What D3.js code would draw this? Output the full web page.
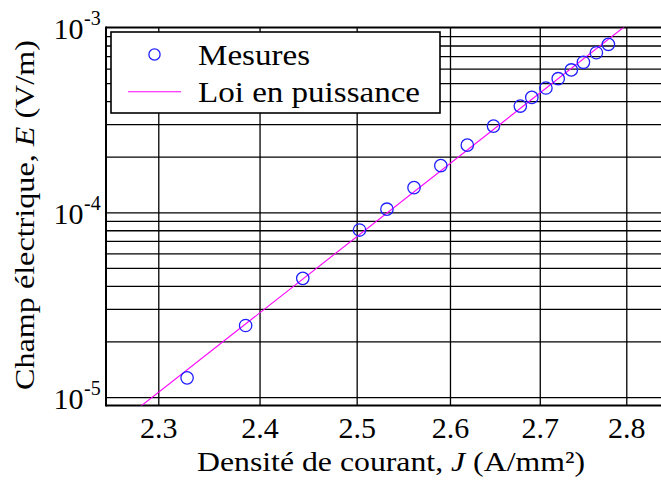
<!DOCTYPE html>
<html>
<head>
<meta charset="utf-8">
<script src="https://cdn.jsdelivr.net/npm/d3@7/dist/d3.min.js"></script>
<style>
  html, body { margin: 0; padding: 0; background: #fff; }
  svg { display: block; }
</style>
</head>
<body>
<svg id="chart" width="661" height="481"></svg>
<script>
// ---- data ----
const J = [2.328, 2.386, 2.444, 2.503, 2.532, 2.561, 2.590, 2.619, 2.648, 2.678, 2.691, 2.707, 2.721, 2.736, 2.750, 2.765, 2.779];
const E = [1.27e-5, 2.44e-5, 4.39e-5, 8.02e-5, 1.04e-4, 1.36e-4, 1.79e-4, 2.31e-4, 2.93e-4, 3.76e-4, 4.19e-4, 4.71e-4, 5.29e-4, 5.90e-4, 6.49e-4, 7.31e-4, 8.12e-4];
// power-law fit line (two ends)
const fitJ = [2.28, 2.80];
const fitE = [8.64e-6, 1.03e-3];
const xTicks = [2.3, 2.4, 2.5, 2.6, 2.7, 2.8];
const yDecades = [-5, -4, -3];
const yMinorMult = [1, 2, 3, 4, 5, 6, 7, 8, 9];
const xDomain = [2.25, 2.85];
const yDomain = [9e-6, 1e-3];
const legendLabels = ["Mesures", "Loi en puissance"];

const FONT = "Liberation Serif";
const svg = d3.select("#chart");
const L = 106, R = 668.4, T = 27.6, B = 405.5;

const x = d3.scaleLog().domain(xDomain).range([L, R]);
const y = d3.scaleLog().domain(yDomain).range([B, T]);

const yGrid = [];
[-6, -5, -4].forEach(k => yMinorMult.forEach(m => {
  const v = m * Math.pow(10, k);
  if (v > yDomain[0] * 1.0001 && v < yDomain[1] * 0.9999) yGrid.push(v);
}));

function txt(sel, size) {
  return sel.style("font-family", FONT).style("font-size", size + "px").style("fill", "#000");
}

// clip
svg.append("defs").append("clipPath").attr("id", "clip")
  .append("rect").attr("x", L).attr("y", T).attr("width", R - L).attr("height", B - T);

// vertical grid
const gx = svg.append("g").attr("transform", `translate(0,${B})`)
  .call(d3.axisBottom(x).tickValues(xTicks).tickSize(-(B - T)).tickFormat(""));
gx.select(".domain").remove();
gx.selectAll(".tick line").attr("stroke", "#000").attr("stroke-width", 1.3);

// horizontal grid
const gy = svg.append("g").attr("transform", `translate(${L},0)`)
  .call(d3.axisLeft(y).tickValues(yGrid).tickSize(-(R - L)).tickFormat(""));
gy.select(".domain").remove();
gy.selectAll(".tick line").attr("stroke", "#000").attr("stroke-width", 1.3);

// x tick labels
const gxl = svg.append("g").attr("transform", `translate(0,${B})`)
  .call(d3.axisBottom(x).tickValues(xTicks).tickSize(0).tickPadding(11).tickFormat(d3.format(".1f")));
gxl.select(".domain").remove();
gxl.attr("font-family", FONT);
txt(gxl.selectAll("text"), 30);

// borders (left, top, bottom)
svg.append("line").attr("x1", L).attr("x2", L).attr("y1", T - 1).attr("y2", B + 1).attr("stroke", "#000").attr("stroke-width", 2);
svg.append("line").attr("x1", L).attr("x2", 661).attr("y1", T).attr("y2", T).attr("stroke", "#000").attr("stroke-width", 2);
svg.append("line").attr("x1", L).attr("x2", 661).attr("y1", B).attr("y2", B).attr("stroke", "#000").attr("stroke-width", 2);

// y tick labels 10^k
yDecades.forEach(k => {
  const yy = y(Math.pow(10, k));
  txt(svg.append("text").attr("x", 83.5).attr("y", yy + 11.5).attr("text-anchor", "end"), 30).text("10");
  txt(svg.append("text").attr("x", 84).attr("y", yy - 2.5).attr("text-anchor", "start"), 20).text("-" + Math.abs(k));
});

// fit line
svg.append("path").attr("clip-path", "url(#clip)")
  .datum(fitJ.map((d, i) => [d, fitE[i]]))
  .attr("d", d3.line().x(d => x(d[0])).y(d => y(d[1])))
  .attr("fill", "none").attr("stroke", "#ff00ff").attr("stroke-width", 1.1);

// data points
svg.append("g").selectAll("circle").data(J).join("circle")
  .attr("cx", d => x(d)).attr("cy", (d, i) => y(E[i])).attr("r", 6.2)
  .attr("fill", "none").attr("stroke", "#1f1fff").attr("stroke-width", 1.3);

// legend
const lg = svg.append("g");
lg.append("rect").attr("x", 111).attr("y", 32).attr("width", 329).attr("height", 81)
  .attr("fill", "#fff").attr("stroke", "#000").attr("stroke-width", 1.6);
lg.append("circle").attr("cx", 154.5).attr("cy", 54.5).attr("r", 5.6)
  .attr("fill", "none").attr("stroke", "#1f1fff").attr("stroke-width", 1.3);
lg.append("line").attr("x1", 128).attr("x2", 181).attr("y1", 91.7).attr("y2", 91.7)
  .attr("stroke", "#ff00ff").attr("stroke-width", 1.1);
txt(lg.append("text").attr("x", 198).attr("y", 65), 30)
  .attr("textLength", 112).attr("lengthAdjust", "spacingAndGlyphs").text(legendLabels[0]);
txt(lg.append("text").attr("x", 198).attr("y", 102), 30)
  .attr("textLength", 222).attr("lengthAdjust", "spacingAndGlyphs").text(legendLabels[1]);

// axis labels
const xl = txt(svg.append("text").attr("x", 197).attr("y", 471), 28)
  .attr("textLength", 388).attr("lengthAdjust", "spacingAndGlyphs");
xl.append("tspan").text("Densité de courant, ");
xl.append("tspan").style("font-style", "italic").text("J");
xl.append("tspan").text(" (A/mm²)");

const yl = txt(svg.append("text").attr("transform", "translate(33.5,390) rotate(-90)")
  .attr("x", 0).attr("y", 0), 27)
  .attr("textLength", 350).attr("lengthAdjust", "spacingAndGlyphs");
yl.append("tspan").text("Champ électrique, ");
yl.append("tspan").style("font-style", "italic").text("E");
yl.append("tspan").text(" (V/m)");
</script>
</body>
</html>
